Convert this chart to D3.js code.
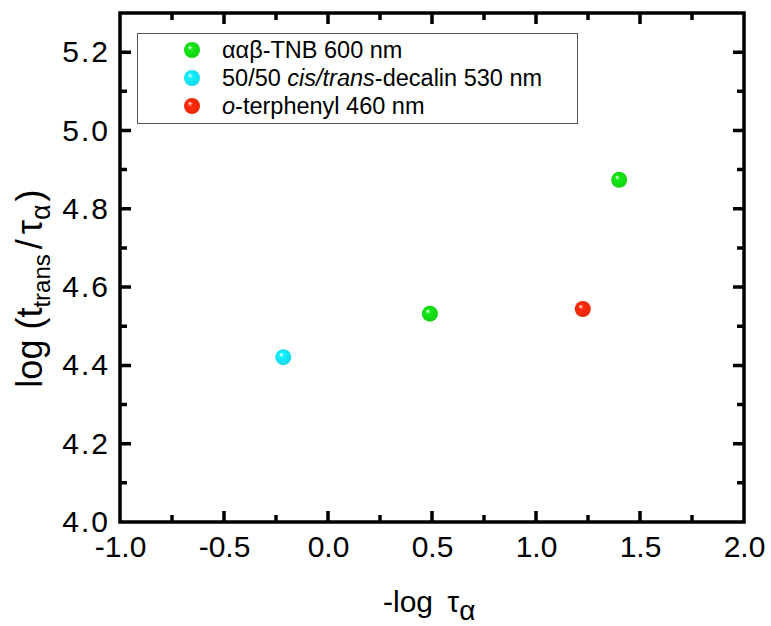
<!DOCTYPE html>
<html>
<head>
<meta charset="utf-8">
<script src="https://cdn.jsdelivr.net/npm/d3@7"></script>
<style>
  html, body { margin: 0; padding: 0; background: #fff; }
  svg { display: block; font-family: "Liberation Sans", Arial, sans-serif; }
</style>
</head>
<body>
<svg id="chart" width="771" height="626"></svg>
<script>
// Series: one point per liquid
const seriesNames = ["ααβ-TNB 600 nm", "50/50 cis/trans-decalin 530 nm", "o-terphenyl 460 nm"];
const seriesColors = ["#14e814", "#14f0ff", "#ff2a0a"];
const tnbX = [0.49, 1.40];
const tnbY = [4.532, 4.874];
const decalinX = [-0.215];
const decalinY = [4.421];
const otpX = [1.225];
const otpY = [4.544];

// Axis ticks
const xTicks = [-1.0, -0.5, 0.0, 0.5, 1.0, 1.5, 2.0];
const xMinor = [-0.75, -0.25, 0.25, 0.75, 1.25, 1.75];
const yTicks = [4.0, 4.2, 4.4, 4.6, 4.8, 5.0, 5.2];
const yMinor = [4.1, 4.3, 4.5, 4.7, 4.9, 5.1];

const svg = d3.select("#chart");
const plotL = 120, plotR = 744, plotT = 13, plotB = 522;

const x = d3.scaleLinear().domain([-1.0, 2.0]).range([plotL, plotR]);
const y = d3.scaleLinear().domain([4.0, 5.3]).range([plotB, plotT]);

// Sphere-like marker shading
const defs = svg.append("defs");
seriesColors.forEach((c, i) => {
  const g = defs.append("radialGradient").attr("id", "ball" + i)
    .attr("cx", "50%").attr("cy", "50%").attr("r", "55%")
    .attr("fx", "35%").attr("fy", "32%");
  g.append("stop").attr("offset", "0%").attr("stop-color", "#ffffff");
  g.append("stop").attr("offset", "28%").attr("stop-color", c);
  g.append("stop").attr("offset", "100%").attr("stop-color", d3.color(c).darker(0.3));
});

const fmt = d => d.toFixed(1);

// Tick labels through d3 axes
function labelAxis(g) {
  g.selectAll(".domain").remove();
  g.selectAll(".tick line").remove();
  g.selectAll("text").attr("fill", "#000").style("font-size", "30px");
}
svg.append("g").attr("transform", `translate(0,${plotB})`)
  .call(d3.axisBottom(x).tickValues(xTicks).tickFormat(fmt).tickSize(0).tickPadding(14))
  .call(labelAxis);
svg.append("g").attr("transform", `translate(${plotL},0)`)
  .call(d3.axisLeft(y).tickValues(yTicks).tickFormat(fmt).tickSize(0).tickPadding(10))
  .call(labelAxis)
  .selectAll("text").style("letter-spacing", "2px");

// Frame plus inward tick marks on all four sides, as one path
const p = d3.path();
p.rect(plotL, plotT, plotR - plotL, plotB - plotT);
const xTickPath = (vals, len) => vals.forEach(v => {
  p.moveTo(x(v), plotB); p.lineTo(x(v), plotB - len);
  p.moveTo(x(v), plotT); p.lineTo(x(v), plotT + len);
});
const yTickPath = (vals, len) => vals.forEach(v => {
  p.moveTo(plotL, y(v)); p.lineTo(plotL + len, y(v));
  p.moveTo(plotR, y(v)); p.lineTo(plotR - len, y(v));
});
xTickPath(xTicks, 11); xTickPath(xMinor, 7);
yTickPath(yTicks, 11); yTickPath(yMinor, 7);
svg.append("path")
  .attr("d", p.toString())
  .attr("fill", "none")
  .attr("stroke", "#000")
  .attr("stroke-width", 3.5);

// Data points
const series = [
  { xs: tnbX, ys: tnbY },
  { xs: decalinX, ys: decalinY },
  { xs: otpX, ys: otpY }
];
series.forEach((s, i) => {
  svg.append("g").selectAll("circle")
    .data(d3.zip(s.xs, s.ys))
    .join("circle")
    .attr("cx", d => x(d[0]))
    .attr("cy", d => y(d[1]))
    .attr("r", 8)
    .attr("fill", `url(#ball${i})`);
});

// Legend
const legend = svg.append("g");
legend.append("rect")
  .attr("x", 137.5).attr("y", 33.5).attr("width", 440).attr("height", 90)
  .attr("fill", "#fff").attr("stroke", "#555").attr("stroke-width", 1);
const rowY = [50, 78, 106];
seriesNames.forEach((name, i) => {
  legend.append("circle").attr("cx", 192).attr("cy", rowY[i]).attr("r", 8)
    .attr("fill", `url(#ball${i})`);
});
const lt = (i) => legend.append("text").attr("x", 222).attr("y", rowY[i] + 8)
  .style("font-size", "23.5px").attr("fill", "#000");
lt(0).text(seriesNames[0]);
{
  const t = lt(1);
  t.append("tspan").text("50/50 ");
  t.append("tspan").style("font-style", "italic").text("cis/trans");
  t.append("tspan").text("-decalin 530 nm");
}
{
  const t = lt(2);
  t.append("tspan").style("font-style", "italic").text("o");
  t.append("tspan").text("-terphenyl 460 nm");
}

// Axis titles
const xt = svg.append("text").attr("x", 383).attr("y", 612)
  .style("font-size", "30px").attr("fill", "#000");
xt.append("tspan").text("-log ");
xt.append("tspan").attr("dx", 6).text("τ");
xt.append("tspan").attr("dy", 8).style("font-size", "28px").text("α");

const yt = svg.append("text")
  .attr("transform", "translate(42,288.5) rotate(-90)")
  .attr("text-anchor", "middle")
  .style("font-size", "36px").attr("fill", "#000");
yt.append("tspan").text("log (t");
yt.append("tspan").attr("dy", 8).style("font-size", "24px").text("trans");
yt.append("tspan").attr("dy", -8).attr("dx", 5).text("/");
yt.append("tspan").attr("dx", 5).text("τ");
yt.append("tspan").attr("dy", 8).style("font-size", "27px").text("α");
yt.append("tspan").attr("dy", -8).attr("dx", 3).text(")");
</script>
</body>
</html>
